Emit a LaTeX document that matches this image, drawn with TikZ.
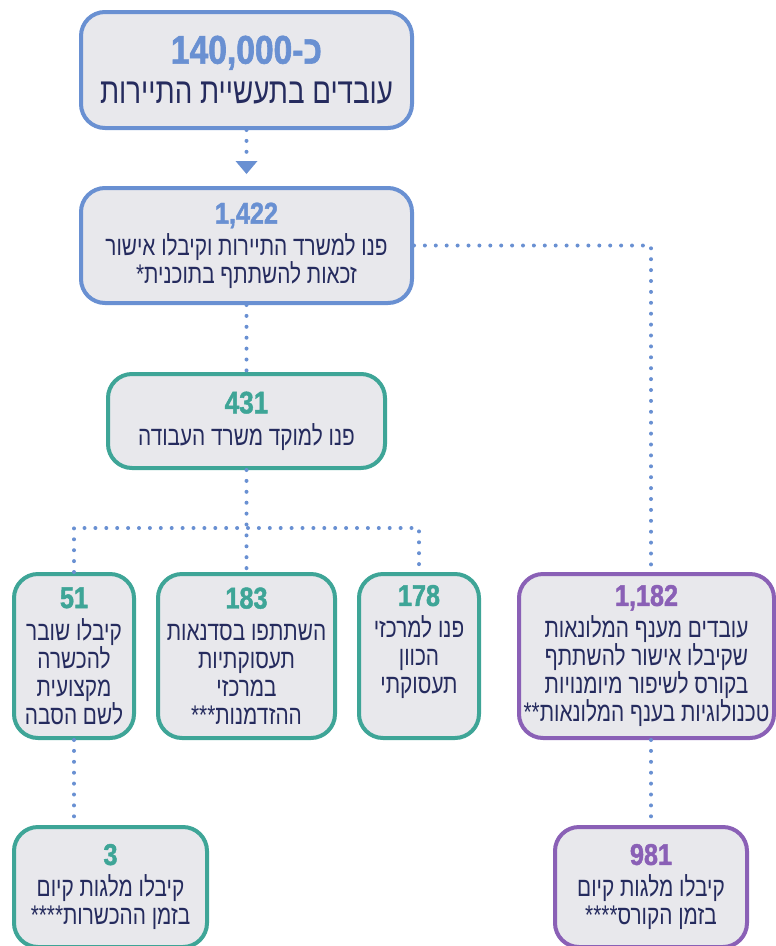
\documentclass[tikz,border=0pt]{standalone}
\usepackage{fontspec}
\usetikzlibrary{arrows.meta}
\TeXXeTstate=1
\newfontfamily\hebfont[Script=Hebrew,FakeStretch=0.77]{Liberation Sans}
\newfontfamily\numfont[Script=Hebrew,FakeStretch=0.84,FakeBold=1.5]{Liberation Sans}
\newcommand\rl[1]{\beginR#1\endR}
\definecolor{cblue}{HTML}{6990D2}
\definecolor{cteal}{HTML}{3EA597}
\definecolor{cpurple}{HTML}{8A60B6}
\definecolor{cfill}{HTML}{E8E8EC}
\definecolor{cnavy}{HTML}{252B5E}
\newcommand\numln[3]{{\numfont\bfseries\color{#1}\fontsize{#2}{#2}\selectfont #3}}
\tikzset{
  box/.style={rectangle, rounded corners=24pt, line width=4pt, fill=cfill,
    inner sep=0pt, align=center, text=cnavy,
    font=\hebfont\fontsize{27}{28}\selectfont},
  bluebox/.style={box, draw=cblue},
  tealbox/.style={box, draw=cteal},
  purplebox/.style={box, draw=cpurple},
  dotline/.style={draw=cblue, line width=4pt, line cap=round,
    dash pattern=on 0pt off 10.9pt}
}
\begin{document}
\begin{tikzpicture}[x=1pt,y=-1pt]
\useasboundingbox (0,0) rectangle (776,946);

\node[bluebox, minimum width=331pt, minimum height=116pt,
  font=\hebfont\fontsize{36}{40}\selectfont] (b1) at (246.5,70)
  {\numln{cblue}{40}{\rl{כ-\beginL 140,000\endL}}\\[0pt]\rl{עובדים בתעשיית התיירות}};

\node[bluebox, minimum width=331pt, minimum height=115pt,
  font=\hebfont\fontsize{27}{26}\selectfont] (b2) at (246.5,245.5)
  {\numln{cblue}{30}{1,422}\\[4pt]\rl{פנו למשרד התיירות וקיבלו אישור}\\\rl{זכאות להשתתף בתוכנית*}};

\node[tealbox, minimum width=277pt, minimum height=94pt,
  font=\hebfont\fontsize{27}{28}\selectfont] (b3) at (246.5,421)
  {\numln{cteal}{31}{431}\\[4pt]\rl{פנו למוקד משרד העבודה}};

\node[tealbox, minimum width=120pt, minimum height=164pt] (b51) at (74,656)
  {\numln{cteal}{30}{51}\\[4pt]\rl{קיבלו שובר}\\\rl{להכשרה}\\\rl{מקצועית}\\\rl{לשם הסבה}};

\node[tealbox, minimum width=177pt, minimum height=164pt] (b183) at (246.5,656)
  {\numln{cteal}{30}{183}\\[4pt]\rl{השתתפו בסדנאות}\\\rl{תעסוקתיות}\\\rl{במרכזי}\\\rl{ההזדמנות***}};

\node[tealbox, minimum width=120pt, minimum height=164pt] (b178) at (419,656)
  {\numln{cteal}{30}{178}\\[4pt]\rl{פנו למרכזי}\\\rl{הכוון}\\\rl{תעסוקתי}\\\rl{\phantom{קיבלו}}};

\node[purplebox, minimum width=255pt, minimum height=164pt] (b1182) at (646.5,656)
  {\numln{cpurple}{30}{1,182}\\[4pt]\rl{עובדים מענף המלונאות}\\\rl{שקיבלו אישור להשתתף}\\\rl{בקורס לשיפור מיומנויות}\\\rl{טכנולוגיות בענף המלונאות**}};

\node[tealbox, minimum width=193pt, minimum height=120pt] (b3s) at (110.5,887)
  {\numln{cteal}{30}{3}\\[4pt]\rl{קיבלו מלגות קיום}\\\rl{בזמן ההכשרות****}};

\node[purplebox, minimum width=192pt, minimum height=120pt] (b981) at (651,887)
  {\numln{cpurple}{30}{981}\\[4pt]\rl{קיבלו מלגות קיום}\\\rl{בזמן הקורס****}};

% connectors
\coordinate (jn) at (246.5,528);
\coordinate (tipend) at ([yshift=27pt]b2.north);
\draw[dotline] (b1.south) -- (tipend);
\fill[cblue] ([xshift=-11pt,yshift=25pt]b2.north) -- ([xshift=11pt,yshift=25pt]b2.north) -- ([yshift=12pt]b2.north) -- cycle;
\draw[dotline] (b2.south) -- (b3.north);
\draw[dotline] (b3.south) -- (b183.north);
\draw[dotline] (b51.north) |- (jn) -| (b178.north);
\draw[dotline] (b2.east) -| (b981.north |- b1182.north);
\draw[dotline] (b51.south) -- (b51.south |- b3s.north);
\draw[dotline] (b981.north |- b1182.south) -- (b981.north);
\end{tikzpicture}
\end{document}
